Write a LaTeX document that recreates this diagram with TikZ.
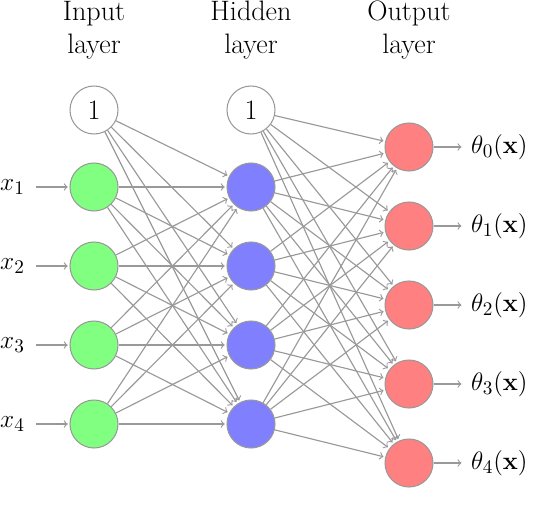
\documentclass[tikz,border=0pt]{standalone}
\begin{document}
\begin{tikzpicture}[
    font=\fontsize{15}{19}\selectfont,
    neuron/.style={circle, draw=gray!80, line width=0.6pt, minimum size=0.96cm, inner sep=0pt},
    inunit/.style={neuron, fill=green!50},
    hidunit/.style={neuron, fill=blue!50},
    outunit/.style={neuron, fill=red!50},
    conn/.style={->, draw=gray!80, line width=0.65pt, shorten >=1pt},
    title/.style={align=center, font=\fontsize{16}{19}\selectfont}
  ]
  \useasboundingbox (0,0) rectangle (10.8,10.44);

  % layer titles
  \node[title] (tin) at (1.88,9.84) {Input\\layer};
  \node[title] (thid) at (5.02,9.84) {Hidden\\layer};
  \node[title] (tout) at (8.18,9.84) {Output\\layer};

  % bias units
  \node[neuron, font=\fontsize{16}{19}\selectfont] (b1) at (1.88,8.24) {1};
  \node[neuron, font=\fontsize{16}{19}\selectfont] (b2) at (5.02,8.24) {1};

  % input and hidden units
  \foreach \i/\y in {1/6.70, 2/5.12, 3/3.54, 4/1.96} {
    \node[inunit] (i\i) at (1.88,\y) {};
    \node[hidunit] (h\i) at (5.02,\y) {};
    \node[anchor=east] (x\i) at (0.62,\y) {$x_\i$};
    \draw[conn, shorten <=3pt] (x\i) -- (i\i);
  }

  % output units
  \foreach \i/\y in {0/7.50, 1/5.92, 2/4.34, 3/2.76, 4/1.18} {
    \node[outunit] (o\i) at (8.18,\y) {};
    \node[anchor=west] (th\i) at (9.30,\y) {$\theta_\i(\mathbf{x})$};
    \draw[conn, shorten >=2pt] (o\i) -- (th\i);
  }

  % weights
  \foreach \a in {b1,i1,i2,i3,i4}
    \foreach \b in {h1,h2,h3,h4}
      \draw[conn] (\a) -- (\b);
  \foreach \a in {b2,h1,h2,h3,h4}
    \foreach \b in {o0,o1,o2,o3,o4}
      \draw[conn] (\a) -- (\b);
\end{tikzpicture}
\end{document}
